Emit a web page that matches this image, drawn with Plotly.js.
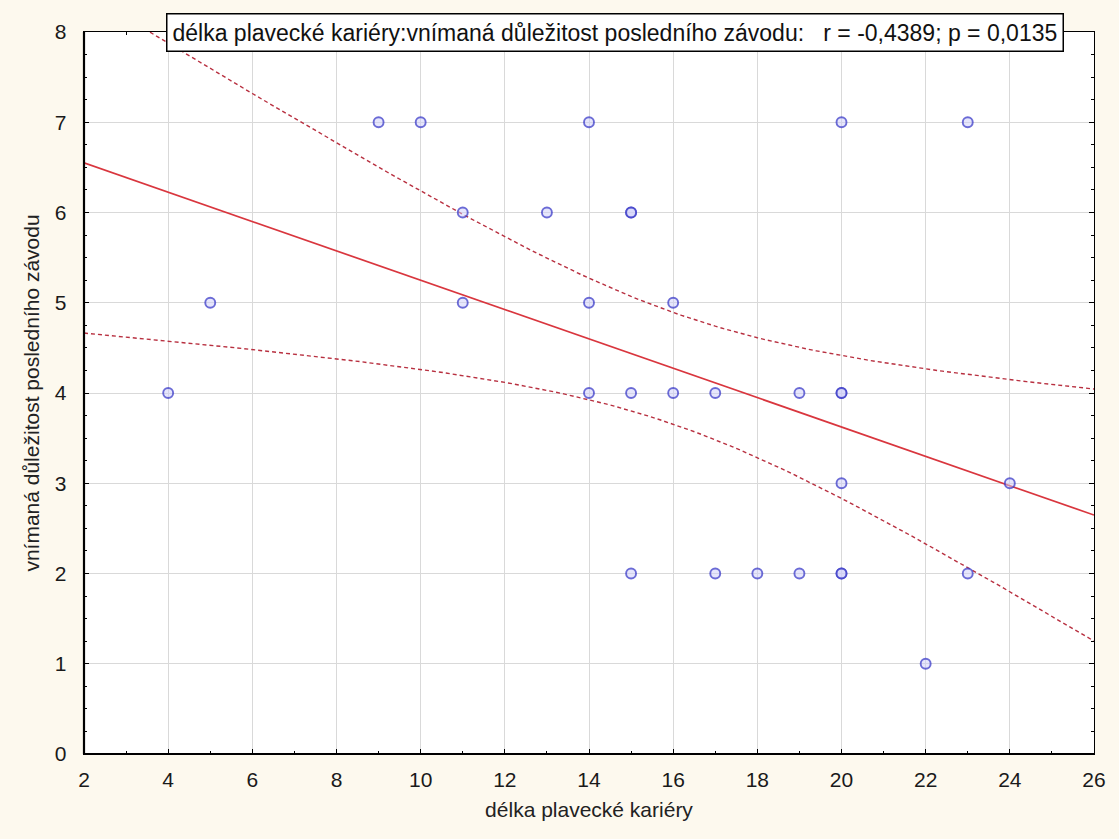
<!DOCTYPE html>
<html><head><meta charset="utf-8">
<script src="https://cdn.plot.ly/plotly-3.0.1.min.js"></script>
<style>html,body{margin:0;padding:0;background:#fdf9ee;}#chart{width:1119px;height:839px;}</style>
</head><body><div id="chart"></div>
<script>
const careerYears = [4,5,9,10,11,11,13,14,14,14,15,15,15,15,16,16,17,17,18,19,19,20,20,20,20,20,20,22,23,23,24];
const importance  = [4,5,7,7,6,5,6,7,5,4,6,6,4,2,5,4,4,2,2,4,2,7,4,4,3,2,2,1,7,2,3];
const xTicks = [2,4,6,8,10,12,14,16,18,20,22,24,26];
const yTicks = [0,1,2,3,4,5,6,7,8];
const titleText = 'délka plavecké kariéry:vnímaná důležitost posledního závodu:   r = -0,4389; p = 0,0135';

// linear fit + 95% confidence band computed from the data
const n = careerYears.length;
const mx = careerYears.reduce((a,b)=>a+b,0)/n;
const my = importance.reduce((a,b)=>a+b,0)/n;
let sxx=0, sxy=0;
for (let i=0;i<n;i++){ sxx+=(careerYears[i]-mx)**2; sxy+=(careerYears[i]-mx)*(importance[i]-my); }
const b1 = sxy/sxx, b0 = my-b1*mx;
let sse=0;
for (let i=0;i<n;i++){ sse+=(importance[i]-(b0+b1*careerYears[i]))**2; }
const s = Math.sqrt(sse/(n-2));
const tcrit = 2.045; // t(0.975, 29)
const fx=[], fy=[], up=[], lo=[];
for (let k=0;k<=120;k++){
  const x = 2 + k*0.2;
  const yh = b0+b1*x;
  const se = s*Math.sqrt(1/n + (x-mx)**2/sxx);
  fx.push(x); fy.push(yh); up.push(yh+tcrit*se); lo.push(yh-tcrit*se);
}

const traces = [
  {x:fx, y:up, mode:'lines', line:{color:'#b83040', width:1.4, dash:'4px,3px'}, hoverinfo:'skip'},
  {x:fx, y:lo, mode:'lines', line:{color:'#b83040', width:1.4, dash:'4px,3px'}, hoverinfo:'skip'},
  {x:fx, y:fy, mode:'lines', line:{color:'#d9363e', width:1.7}, hoverinfo:'skip'},
  {x:careerYears, y:importance, mode:'markers',
   marker:{symbol:'circle', size:10, color:'rgba(205,205,250,0.5)', line:{color:'rgba(60,60,200,0.75)', width:1.9}}}
];

const axFont = {family:'Liberation Sans, Arial, sans-serif', size:21, color:'#1a1a1a'};
const ttlFont = {family:'Liberation Sans, Arial, sans-serif', size:21, color:'#222'};
const layout = {
  width:1119, height:839,
  paper_bgcolor:'#fdf9ee', plot_bgcolor:'#ffffff',
  showlegend:false,
  margin:{l:84, r:25, t:32, b:85},
  xaxis:{range:[2,26], tickvals:xTicks, ticktext:xTicks.map(String), showgrid:true, gridcolor:'#d9d9d9', gridwidth:1,
    zeroline:false, showline:true, linecolor:'#000', linewidth:1.3, mirror:'ticks',
    ticks:'inside', ticklen:5, tickcolor:'#000', tickfont:axFont, ticklabelstandoff:6,
    minor:{dtick:1, tick0:2, ticks:'inside', ticklen:3, tickcolor:'#000', showgrid:false},
    title:{text:'délka plavecké kariéry', font:ttlFont, standoff:12}},
  yaxis:{range:[0,8], tickvals:yTicks, ticktext:yTicks.map(String), showgrid:true, gridcolor:'#d9d9d9', gridwidth:1,
    zeroline:false, showline:true, linecolor:'#000', linewidth:1.3, mirror:'ticks',
    ticks:'inside', ticklen:5, tickcolor:'#000', tickfont:axFont, ticklabelstandoff:12,
    minor:{dtick:0.25, tick0:0, ticks:'inside', ticklen:3, tickcolor:'#000', showgrid:false},
    title:{text:'vnímaná důležitost posledního závodu', font:ttlFont, standoff:9}},
  shapes:[
    {type:'line', xref:'paper', yref:'paper', x0:0, x1:0, y0:0, y1:1, line:{color:'#000', width:2.2}},
    {type:'line', xref:'paper', yref:'paper', x0:0, x1:1, y0:0, y1:0, line:{color:'#000', width:2.2}}
  ],
  annotations:[{xref:'paper', yref:'paper', x:0.526, y:1.0, xanchor:'center', yanchor:'middle',
    text:titleText, showarrow:false, bgcolor:'#ffffff', bordercolor:'#000', borderwidth:1.5, borderpad:5,
    font:{family:'Liberation Sans, Arial, sans-serif', size:23, color:'#111'}}]
};
Plotly.newPlot('chart', traces, layout, {displayModeBar:false, staticPlot:true});
</script></body></html>
